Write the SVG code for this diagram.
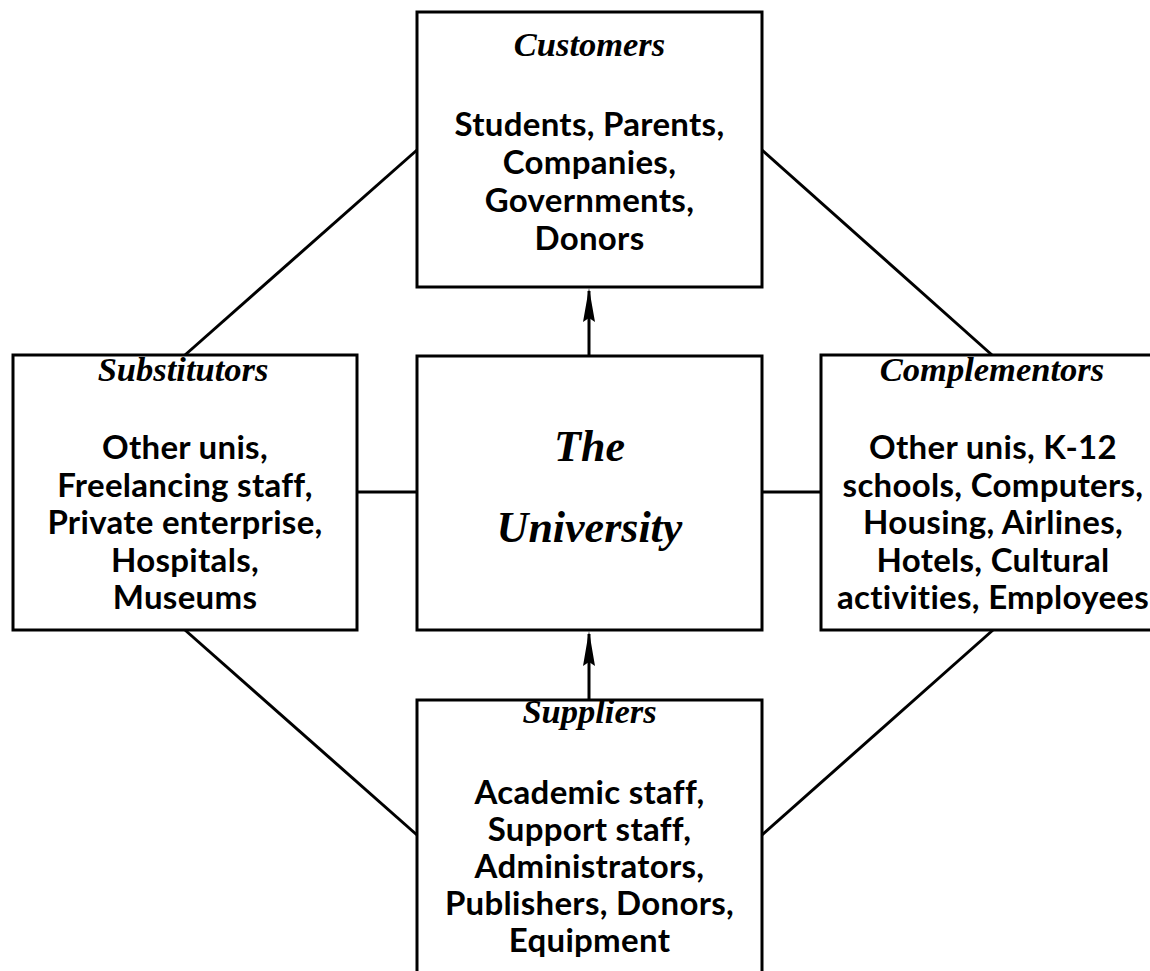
<svg xmlns="http://www.w3.org/2000/svg" width="1150" height="971" viewBox="0 0 1150 971">
<style>
.box{fill:#fff;stroke:#000;stroke-width:3}
.ln{stroke:#000;stroke-width:3;fill:none}
.title{font-family:"Liberation Serif",serif;font-style:italic;font-weight:bold;font-size:34.5px;text-anchor:middle;fill:#000}
.body{font-family:Lato,"Open Sans",sans-serif;font-weight:bold;font-size:33px;letter-spacing:0.3px;text-anchor:middle;fill:#000}
.big{font-family:"Liberation Serif",serif;font-style:italic;font-weight:bold;font-size:44px;text-anchor:middle;fill:#000}
</style>
<rect width="1150" height="971" fill="#fff"/>
<g id="connectors">
<line class="ln" x1="417" y1="150" x2="185" y2="355"/>
<line class="ln" x1="762" y1="150" x2="992" y2="355"/>
<line class="ln" x1="185" y1="630" x2="417" y2="835"/>
<line class="ln" x1="993" y1="630" x2="762" y2="835"/>
<line class="ln" x1="357" y1="492" x2="417" y2="492"/>
<line class="ln" x1="762" y1="492" x2="821" y2="492"/>
<path class="ln" d="M589 356 L589 291"/>
<path d="M589 288 L595 322 L589 318 L583 322 Z" fill="#000"/>
<path class="ln" d="M589 700 L589 634"/>
<path d="M589 631 L595 666 L589 662 L583 666 Z" fill="#000"/>
</g>
<g id="customers">
<rect class="box" x="417" y="12" width="345" height="275"/>
<text class="title" x="589.5" y="56">Customers</text>
<text class="body" x="589.5" y="136">Students, Parents,</text>
<text class="body" x="589.5" y="174">Companies,</text>
<text class="body" x="589.5" y="212">Governments,</text>
<text class="body" x="589.5" y="250">Donors</text>
</g>
<g id="substitutors">
<rect class="box" x="13" y="355" width="344" height="275"/>
<text class="title" x="183" y="381">Substitutors</text>
<text class="body" x="185" y="459">Other unis,</text>
<text class="body" x="185" y="497">Freelancing staff,</text>
<text class="body" x="185" y="534">Private enterprise,</text>
<text class="body" x="185" y="572">Hospitals,</text>
<text class="body" x="185" y="609">Museums</text>
</g>
<g id="university">
<rect class="box" x="417" y="356" width="345" height="274"/>
<text class="big" x="589.5" y="461">The</text>
<text class="big" x="589.5" y="542">University</text>
</g>
<g id="complementors">
<rect class="box" x="821" y="355" width="345" height="275"/>
<text class="title" x="992" y="381">Complementors</text>
<text class="body" x="993" y="459">Other unis, K-12</text>
<text class="body" x="993" y="497">schools, Computers,</text>
<text class="body" x="993" y="534">Housing, Airlines,</text>
<text class="body" x="993" y="572">Hotels, Cultural</text>
<text class="body" x="993" y="609">activities, Employees</text>
</g>
<g id="suppliers">
<rect class="box" x="417" y="700" width="345" height="300"/>
<text class="title" x="589.5" y="723">Suppliers</text>
<text class="body" x="589.5" y="804">Academic staff,</text>
<text class="body" x="589.5" y="841">Support staff,</text>
<text class="body" x="589.5" y="878">Administrators,</text>
<text class="body" x="589.5" y="915">Publishers, Donors,</text>
<text class="body" x="589.5" y="952">Equipment</text>
</g>
</svg>
